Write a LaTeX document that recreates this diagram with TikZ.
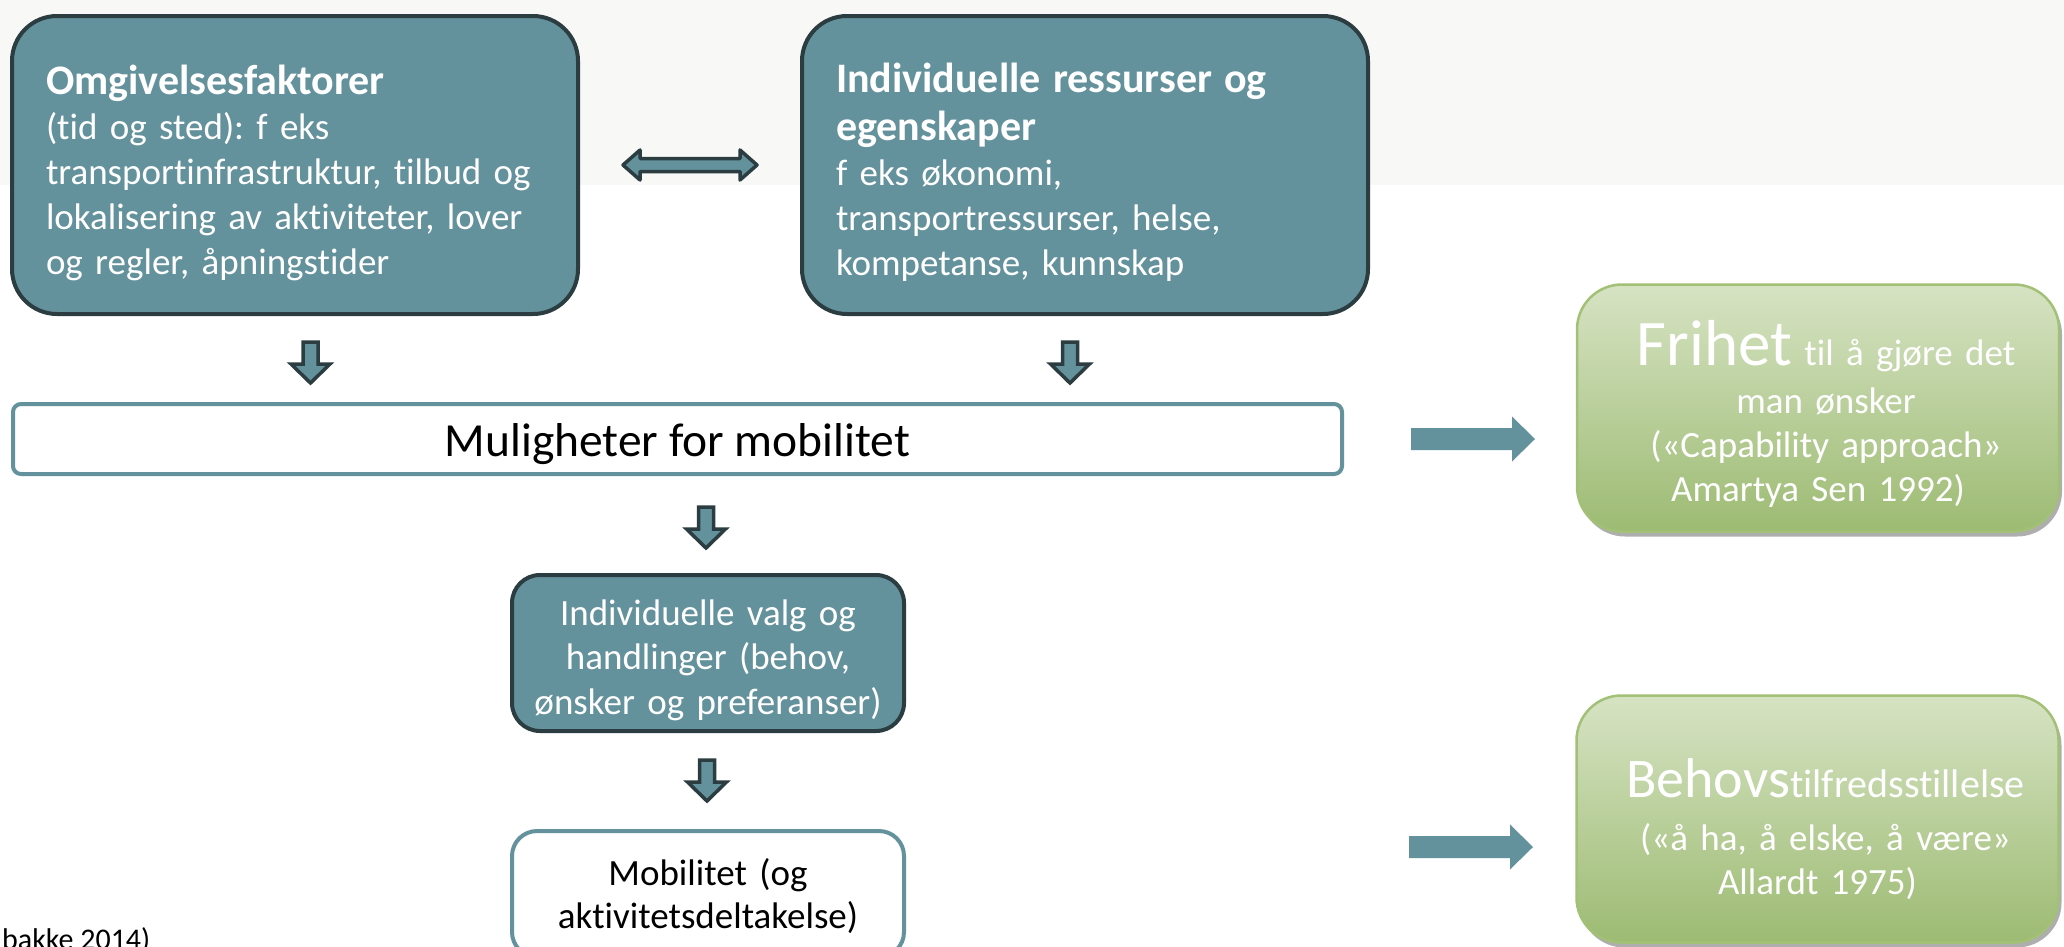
\documentclass[tikz,border=0pt]{standalone}
\usepackage{fontspec}
\setmainfont{Carlito}[Ligatures={NoCommon}]
\usetikzlibrary{shadows,calc}
\definecolor{teal1}{RGB}{100,146,156}
\definecolor{dark1}{RGB}{43,61,64}
\definecolor{bggray}{RGB}{248,248,246}
\definecolor{gtop}{RGB}{214,227,195}
\definecolor{gbot}{RGB}{157,187,115}
\definecolor{gborder}{RGB}{162,193,118}
\newcommand{\shiftc}{\leftskip=16pt plus 1fil\rightskip=0pt plus 1fil\parfillskip=0pt\relax}
\tikzset{
  bluebox/.style={draw=dark1, line width=4pt, fill=teal1, rounded corners=45pt, text=white,
    minimum width=566pt, minimum height=298pt, text width=498pt, align=left, inner sep=0pt,
    font=\fontsize{37}{45}\selectfont\frenchspacing},
  smallblue/.style={draw=dark1, line width=4pt, fill=teal1, rounded corners=28pt, text=white,
    minimum width=392pt, minimum height=156pt, text width=380pt, align=center, inner sep=0pt,
    font=\fontsize{37}{44.5}\selectfont},
  whitebox/.style={draw=teal1, line width=4pt, fill=white, text=black, inner sep=0pt, align=center},
  greenbox/.style={draw=gborder, line width=2.5pt, top color=gtop, bottom color=gbot,
    rounded corners=45pt, text=white, align=center, inner sep=0pt, text width=470pt,
    minimum width=482pt, minimum height=247pt, font=\fontsize{37}{44}\selectfont,
    drop shadow={shadow xshift=3pt, shadow yshift=-5pt, opacity=0.45, fill=black!70}},
  downarr/.pic={\draw[dark1, line width=3.5pt, fill=teal1, line join=miter]
    (-7.5,0) -- (7.5,0) -- (7.5,22) -- (19.5,22) -- (0,41) -- (-19.5,22) -- (-7.5,22) -- cycle;},
  dblarr/.pic={\draw[dark1, line width=3.5pt, fill=teal1, line join=round]
    (-67,0) -- (-50,-15) -- (-50,-6.5) -- (50,-6.5) -- (50,-15) -- (67,0) -- (50,15) -- (50,6.5)
    -- (-50,6.5) -- (-50,15) -- cycle;},
  rightarr/.pic={\fill[teal1] (0,-11) -- (101,-11) -- (101,-22.5) -- (124,0) -- (101,22.5)
    -- (101,11) -- (0,11) -- cycle;},
}
\begin{document}
\begin{tikzpicture}[x=1pt, y=-1pt]
\useasboundingbox (0,0) rectangle (2064,946);
\fill[white] (0,0) rectangle (2064,946);
\fill[bggray] (0,0) rectangle (2064,185);

\node[bluebox] (omg) at (295,165) {\rule{0pt}{46pt}{\fontsize{42}{45}\selectfont\bfseries Omgivelsesfaktorer}\\
(tid og sted): f eks\\
transportinfrastruktur, tilbud og\\
lokalisering av aktiviteter, lover\\
og regler, åpningstider};

\node[bluebox] (ind) at (1085,165) {\rule{0pt}{43pt}{\fontsize{42}{45}\selectfont\bfseries Individuelle ressurser og\\[3pt]
egenskaper}\\
f eks økonomi,\\
transportressurser, helse,\\
kompetanse, kunnskap};

\pic (dbl) at ($(omg.east)!0.5!(ind.west)$) {dblarr};

\node[whitebox, minimum width=1329pt, minimum height=70pt, rounded corners=8pt,
  text height=42pt, text depth=8pt,
  font=\fontsize{47.5}{50}\selectfont] (mul) at (677.5,439) {Muligheter for mobilitet};

\node[smallblue] (valg) at (708,653) {\rule{0pt}{40pt}Individuelle valg og\\ handlinger (behov,\\ ønsker og preferanser)};

\node[whitebox, minimum width=392pt, minimum height=126pt, rounded corners=25pt, text width=380pt,
  font=\fontsize{37}{43}\selectfont] (mob) at (708,894) {\rule{0pt}{32pt}Mobilitet (og\\ aktivitetsdeltakelse)};

\pic (d1) at (310.5,342) {downarr};
\pic (d2) at (1070,342) {downarr};
\pic (d3) at (706,507) {downarr};
\pic (d4) at (707,760) {downarr};

\node[greenbox] (fri) at (1818,408) {\shiftc\rule{0pt}{57pt}{\fontsize{65}{65}\selectfont Frihet} til å gjøre det\\[4pt]
man ønsker\\
(«Capability approach»\\
Amartya Sen 1992)};

\node[greenbox] (beh) at (1817.5,819) {\shiftc\rule{0pt}{60pt}{\fontsize{56}{56}\selectfont Behovs}{\fontsize{40}{40}\selectfont tilfredsstillelse}\\[9pt]
(«å ha, å elske, å være»\\
Allardt 1975)};

\pic (r1) at (1411,439) {rightarr};
\pic (r2) at (1409,847) {rightarr};

\node[anchor=base west, inner sep=0pt, font=\fontsize{30}{30}\selectfont, text=black] (src) at (2,949) {bakke 2014)};
\end{tikzpicture}
\end{document}
